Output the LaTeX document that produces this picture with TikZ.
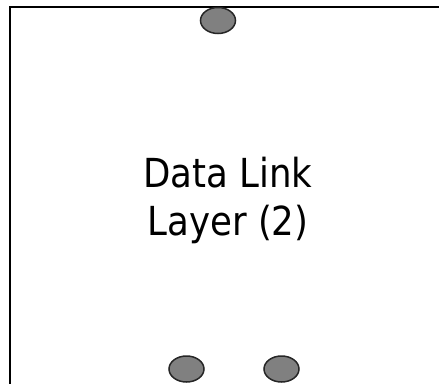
\documentclass[tikz,border=0pt]{standalone}
\usepackage{fontspec}
\setmainfont{DejaVu Sans}[FakeStretch=0.89]
\usepackage{tikz}
\usetikzlibrary{shapes.geometric,positioning}

\begin{document}
\begin{tikzpicture}[x=1pt,y=-1pt,semithick,
    port/.style={ellipse,draw=black!85,fill=black!50,line width=1.5pt,minimum width=35pt,minimum height=26pt,inner sep=0pt},
    layer/.style={align=center,inner sep=0pt,font=\fontsize{40}{48}\selectfont}]
    \useasboundingbox (0,0) rectangle (439,383);
    % layer box, open to the right and below
    \draw[line width=2.7pt] (10,384) -- (10,7) -- (440,7);
    \node[layer] (L) at (228,200.5) {Data Link\\ Layer (2)};
    % connection points
    \node[port] (up)    at (218,20.5) {};
    \node[port] (downA) at (186.5,369) {};
    \node[port] (downB) at (281.5,369) {};
\end{tikzpicture}
\end{document}
